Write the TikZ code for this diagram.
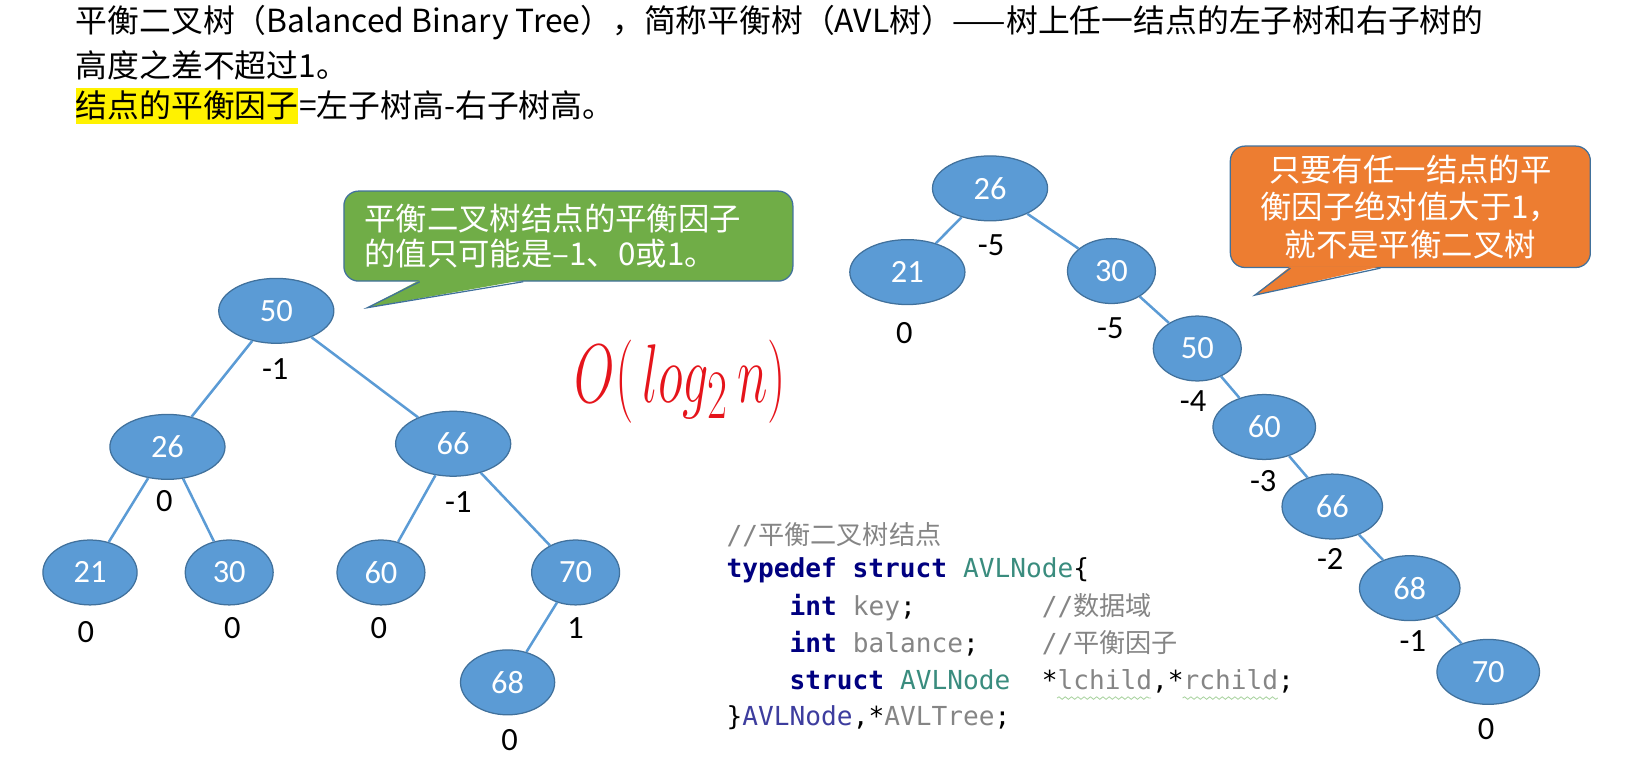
\documentclass[tikz,border=0pt]{standalone}
\usepackage{fontspec}
\setmainfont{Carlito}
\setmonofont{DejaVu Sans Mono}
\newfontfamily\cjk{Noto Sans CJK SC}
\usetikzlibrary{shapes.geometric,positioning,decorations.pathmorphing}
\definecolor{nodefill}{HTML}{5B9BD5}
\definecolor{nodeline}{HTML}{41719C}
\definecolor{callgreen}{HTML}{70AD47}
\definecolor{callorange}{HTML}{ED7D31}
\definecolor{kwblue}{HTML}{000080}
\definecolor{tyteal}{HTML}{3A8C7E}
\definecolor{codegray}{HTML}{858585}
\definecolor{tdblue}{HTML}{3D3D9E}
\definecolor{handred}{HTML}{E5141B}
\definecolor{squiggreen}{HTML}{A9D3A0}
\newcommand\kw[1]{\textcolor{kwblue}{\bfseries #1}}
\newcommand\ty[1]{\textcolor{tyteal}{#1}}
\newcommand\fd[1]{\textcolor{codegray}{#1}}
\newcommand\cm[1]{\textcolor{codegray}{#1}}

\begin{document}
\begin{tikzpicture}[x=0.5pt,y=-0.5pt]

                    \tikzset{avl/.style = {shape=ellipse,draw=nodeline,line width=0.6pt,fill=nodefill,text=white,inner sep=0pt,minimum height=31pt,minimum width=#1,font=\fontsize{15.5}{15.5}\selectfont},avl/.default=55pt}
                    \tikzset{bf/.style = {inner sep=0pt,font=\fontsize{15.5}{15.5}\selectfont}}
                    \tikzset{edge/.style = {draw=nodefill,line width=1.2pt}}
                    \tikzset{headline/.style = {anchor=west,inner sep=0pt,font=\cjk\fontsize{15.2}{17}\selectfont}}
                    \tikzset{callbox/.style = {draw=nodeline,line width=0.6pt,rounded corners=7pt,text=white,font=\cjk\fontsize{15}{16.5}\selectfont}}
                    \tikzset{pointer/.style = {draw=nodeline,line width=0.6pt}}
                    \tikzset{codeline/.style = {anchor=west,inner sep=0pt,font=\ttfamily\fontsize{12.5}{12.5}\selectfont}}
                    \tikzset{squig/.style = {draw=squiggreen,line width=0.4pt,decorate,decoration={snake,amplitude=0.6pt,segment length=3pt}}}

                    \useasboundingbox (0,0) rectangle (1568,737);

                    \node[headline] (t1) at (72,22) {平衡二叉树（Balanced Binary Tree），简称平衡树（AVL树）——树上任一结点的左子树和右子树的};
                    \node[headline] (t2) at (72,62) {高度之差不超过1。};
                    \node[headline,fill=yellow,inner ysep=1.5pt] (t3a) at (72,101) {结点的平衡因子};
                    \node[headline,right=0pt of t3a] (t3b) {=左子树高-右子树高。};

                    \node[avl] (l50) at (264,297) {50};
                    \node[avl] (l26) at (160,427) {26};
                    \node[avl] (l66) at (433,424) {66};
                    \node[avl=45pt] (l21) at (86,547) {21};
                    \node[avl=42pt] (l30) at (219,547) {30};
                    \node[avl=42pt] (l60) at (364,547) {60};
                    \node[avl=42pt] (l70) at (550,547) {70};
                    \node[avl=45pt] (l68) at (485,652) {68};

                    \node[bf] (bl50) at (263,353) {-1};
                    \node[bf] (bl26) at (157,479) {0};
                    \node[bf] (bl66) at (438,480) {-1};
                    \node[bf] (bl21) at (82,604) {0};
                    \node[bf] (bl30) at (222,600) {0};
                    \node[bf] (bl60) at (362,600) {0};
                    \node[bf] (bl70) at (550,600) {1};
                    \node[bf] (bl68) at (487,707) {0};

                    \draw[edge] (l50) to (l26);
                    \draw[edge] (l50) to (l66);
                    \draw[edge] (l26) to (l21);
                    \draw[edge] (l26) to (l30);
                    \draw[edge] (l66) to (l60);
                    \draw[edge] (l66) to (l70);
                    \draw[edge] (l70) to (l68);

                    \node[avl] (r26) at (946,180) {26};
                    \node[avl] (r21) at (867,260) {21};
                    \node[avl=42pt] (r30) at (1062,259) {30};
                    \node[avl=42pt] (r50) at (1144,333) {50};
                    \node[avl=49pt] (r60) at (1208,408) {60};
                    \node[avl=48pt] (r66) at (1273,484) {66};
                    \node[avl=48pt] (r68) at (1347,562) {68};
                    \node[avl=49pt] (r70) at (1422,642) {70};

                    \node[bf] (br26) at (947,234) {-5};
                    \node[bf] (br21) at (864,318) {0};
                    \node[bf] (br30) at (1061,314) {-5};
                    \node[bf] (br50) at (1140,383) {-4};
                    \node[bf] (br60) at (1207,460) {-3};
                    \node[bf] (br66) at (1271,534) {-2};
                    \node[bf] (br68) at (1350,613) {-1};
                    \node[bf] (br70) at (1420,697) {0};

                    \draw[edge] (r26) to (r21);
                    \draw[edge] (r26) to (r30);
                    \draw[edge] (r30) to (r50);
                    \draw[edge] (r50) to (r60);
                    \draw[edge] (r60) to (r66);
                    \draw[edge] (r66) to (r68);
                    \draw[edge] (r68) to (r70);

                    \node[callbox,fill=callgreen,anchor=north west,minimum width=214.5pt,minimum height=43pt,text width=195pt,inner xsep=9.5pt,align=left] (gbox) at (328,182) {平衡二叉树结点的平衡因子\\的值只可能是–1、0或1。};
                    \coordinate (gtip) at (351,294);
                    \fill[callgreen] ([xshift=36.5pt,yshift=0.8pt]gbox.south west) -- (gtip) -- ([xshift=86pt,yshift=0.8pt]gbox.south west) -- cycle;
                    \draw[pointer] ([xshift=36.5pt]gbox.south west) -- (gtip) -- ([xshift=86pt]gbox.south west);

                    \node[callbox,fill=callorange,anchor=north west,minimum width=172pt,minimum height=58pt,text width=150pt,align=center,font=\cjk\fontsize{15}{18}\selectfont] (obox) at (1175,139) {只要有任一结点的平\\衡因子绝对值大于1，\\就不是平衡二叉树};
                    \coordinate (otip) at (1199,282);
                    \fill[callorange] ([xshift=29pt,yshift=0.8pt]obox.south west) -- (otip) -- ([xshift=72pt,yshift=0.8pt]obox.south west) -- cycle;
                    \draw[pointer] ([xshift=29pt]obox.south west) -- (otip) -- ([xshift=72pt]obox.south west);

                    \node[text=handred,font=\fontsize{28}{28}\selectfont,yscale=1.6] (cost) at (650,365) {$O(\,log_{2}\,n)$};

                    \node[codeline] (c1) at (694,511) {\cm{//{\cjk 平衡二叉树结点}}};
                    \node[codeline] (c2) at (694,545) {\kw{typedef struct} \ty{AVLNode}\{};
                    \node[codeline] (c3) at (694,580) {~~~~\kw{int} \fd{key};~~~~~~~~\cm{//{\cjk 数据域}}};
                    \node[codeline] (c4) at (694,615) {~~~~\kw{int} \fd{balance};~~~~\cm{//{\cjk 平衡因子}}};
                    \node[codeline] (c5) at (694,651) {~~~~\kw{struct} \ty{AVLNode}~~*\fd{lchild},*\fd{rchild};};
                    \node[codeline] (c6) at (694,686) {\}\textcolor{tdblue}{AVLNode},*\fd{AVLTree};};
                    \draw[squig] (1010,667) -- (1100,667);
                    \draw[squig] (1130,667) -- (1221,667);

                \end{tikzpicture}
\end{document}
